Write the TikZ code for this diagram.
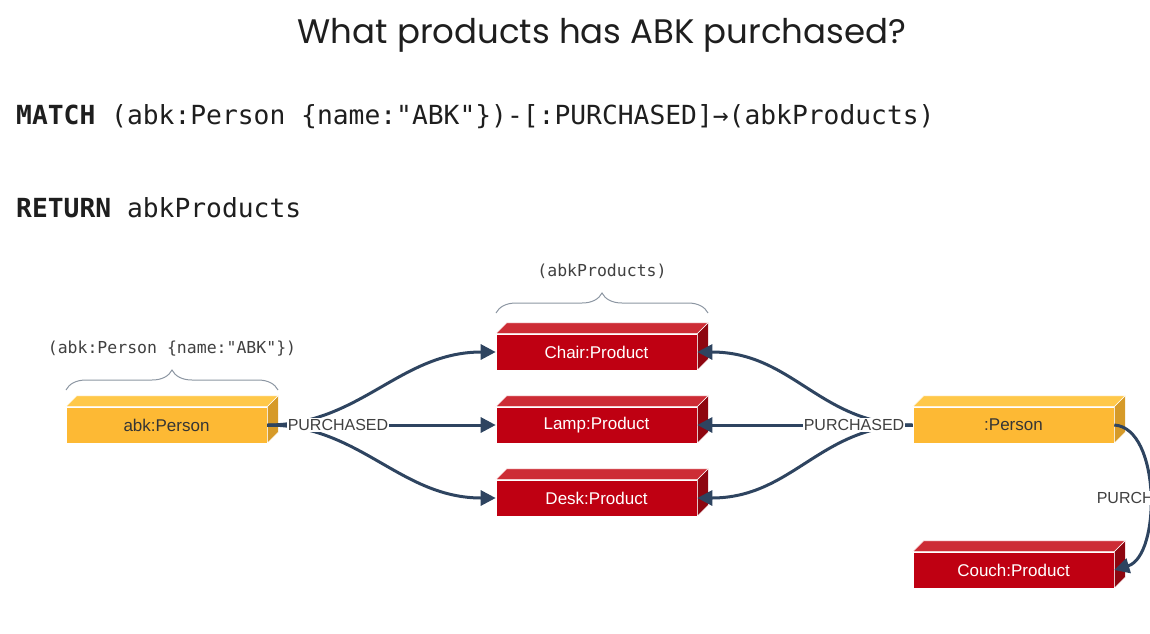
\documentclass[tikz,border=0pt]{standalone}
\usepackage{fontspec}
\setmainfont{Liberation Sans}
\newfontfamily\titlefont{Poppins}
\newfontfamily\codefont{DejaVu Sans Mono}
\usetikzlibrary{arrows.meta,decorations.pathreplacing}

\definecolor{ylwFront}{HTML}{FDB934}
\definecolor{ylwTop}{HTML}{FFC849}
\definecolor{ylwSide}{HTML}{D69A28}
\definecolor{redFront}{HTML}{BF0012}
\definecolor{redTop}{HTML}{CD2C35}
\definecolor{redSide}{HTML}{8E0610}
\definecolor{edgeCol}{HTML}{2E4460}
\definecolor{braceCol}{HTML}{8C96A2}
\definecolor{inkCol}{HTML}{1E1E1E}

\tikzset{
  boxbase/.style={draw=white, line width=0.6pt, minimum width=201pt, minimum height=36pt,
    inner sep=0pt, font=\fontsize{17}{19}\selectfont},
  redbox/.style={boxbase, fill=redFront, text=white},
  ylwbox/.style={boxbase, fill=ylwFront, text=inkCol!90},
  edge/.style={draw=edgeCol, line width=3pt},
  tip/.style={-{Triangle[length=15pt,width=15pt]}},
  rellabel/.style={fill=white, inner sep=1pt, text=inkCol!85, font=\fontsize{16}{18}\selectfont},
  codelabel/.style={text=inkCol!85, font=\codefont\fontsize{16.5}{18}\selectfont, inner sep=0pt},
  bracepath/.style={draw=braceCol, line width=1pt, decorate,
    decoration={brace, amplitude=20pt}},
}

% top and side faces of a box node
\newcommand{\boxfaces}[3]{%
  \fill[#2, draw=white, line width=0.6pt] (#1.north west) -- ++(11,-11) -- ([shift={(11,-11)}]#1.north east) -- (#1.north east) -- cycle;
  \fill[#3, draw=white, line width=0.6pt] (#1.north east) -- ++(11,-11) -- ([shift={(11,-11)}]#1.south east) -- (#1.south east) -- cycle;
}

\begin{document}
\begin{tikzpicture}[x=1pt, y=-1pt]
\useasboundingbox (0,0) rectangle (1150,633);
\clip (0,0) rectangle (1150,633);

% heading and query
\node[font=\titlefont\fontsize{34}{40}\selectfont, text=inkCol] (title) at (602,35) {What products has ABK purchased?};
\node[anchor=base west, inner sep=0pt, text=inkCol, font=\codefont\fontsize{26.3}{30}\selectfont] (match) at (16,124)
  {\textbf{MATCH} (abk:Person \{name:"ABK"\})-[:PURCHASED]→(abkProducts)};
\node[anchor=base west, inner sep=0pt, text=inkCol, font=\codefont\fontsize{26.3}{30}\selectfont] (ret) at (16,217)
  {\textbf{RETURN} abkProducts};

% boxes
\node[ylwbox] (abk) at (166.5,425) {abk:Person};
\boxfaces{abk}{ylwTop}{ylwSide}
\node[redbox] (chair) at (596.5,352) {Chair:Product};
\boxfaces{chair}{redTop}{redSide}
\node[redbox] (lamp) at (596.5,425) {Lamp:Product};
\boxfaces{lamp}{redTop}{redSide}
\node[redbox] (desk) at (596.5,498) {Desk:Product};
\boxfaces{desk}{redTop}{redSide}
\node[ylwbox] (person) at (1013.5,425) {:Person};
\boxfaces{person}{ylwTop}{ylwSide}
\node[redbox] (couch) at (1013.5,570) {Couch:Product};
\boxfaces{couch}{redTop}{redSide}

% braces with their captions
\coordinate (braceA1) at (66,390);
\coordinate (braceA2) at (278,390);
\draw[bracepath] (braceA1) -- (braceA2);
\node[codelabel] (capA) at (172,349) {(abk:Person \{name:"ABK"\})};
\coordinate (braceB1) at (496,313);
\coordinate (braceB2) at (708,313);
\draw[bracepath] (braceB1) -- (braceB2);
\node[codelabel] (capB) at (602,271) {(abkProducts)};

% curved relationships
\draw[edge, tip] (abk.east) .. controls (360,425) and (400,352) .. (chair.west);
\draw[edge, tip] (abk.east) .. controls (360,425) and (400,498) .. (desk.west);
\draw[edge, tip] (person.west) .. controls (820,425) and (793,352) .. (chair.east);
\draw[edge, tip] (person.west) .. controls (820,425) and (793,498) .. (desk.east);
\draw[edge, tip] (person.east) .. controls (1161,428) and (1161,556) .. (couch.east);

% relationship labels
\node[rellabel] (relL) at (338,425) {PURCHASED};
\node[rellabel] (relR) at (854,425) {PURCHASED};
\node[rellabel] (relC) at (1147,498) {PURCHASED};

% straight relationships
\draw[edge] (abk.east) -- (relL.west);
\draw[edge, tip] (relL.east) -- (lamp.west);
\draw[edge] (person.west) -- (relR.east);
\draw[edge, tip] (relR.west) -- (lamp.east);
\end{tikzpicture}
\end{document}
